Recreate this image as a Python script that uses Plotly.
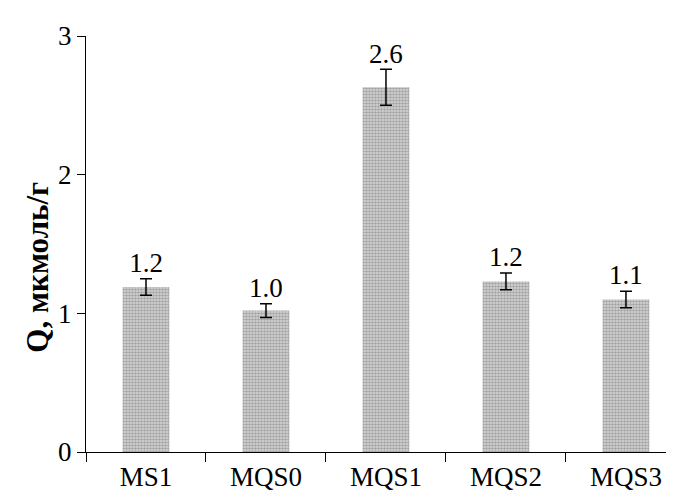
import plotly.graph_objects as go

categories = ["MS1", "MQS0", "MQS1", "MQS2", "MQS3"]
values = [1.19, 1.02, 2.63, 1.23, 1.10]
errors = [0.06, 0.05, 0.13, 0.06, 0.06]
labels = ["1.2", "1.0", "2.6", "1.2", "1.1"]
y_ticks = [0, 1, 2, 3]
y_title = "Q, мкмоль/г"

FONT = "Liberation Serif"

fig = go.Figure()
fig.add_trace(go.Bar(
    x=categories, y=values,
    width=0.39,
    marker=dict(
        color="#b8b8b8",
        line=dict(width=0),
        pattern=dict(shape=".", fgcolor="#6e6e6e", bgcolor="#dadada", size=3, solidity=0.6),
    ),
    error_y=dict(type="data", array=errors, visible=True, color="black", thickness=1.5, width=6),
    showlegend=False,
))
fig.add_trace(go.Scatter(
    x=categories, y=[v + e for v, e in zip(values, errors)],
    mode="text", text=labels, textposition="top center",
    textfont=dict(family=FONT, size=27, color="black"),
    showlegend=False, hoverinfo="skip",
))

fig.add_annotation(
    text="<b>" + y_title + "</b>", textangle=-90,
    xref="paper", x=-0.082, xanchor="center",
    yref="y", y=1.33, yanchor="middle",
    showarrow=False, font=dict(family=FONT, size=31, color="black"),
)

fig.update_layout(
    width=674, height=491,
    margin=dict(l=78, r=0, t=28, b=47),
    plot_bgcolor="white", paper_bgcolor="white",
    font=dict(family=FONT, size=27, color="black"),
    xaxis=dict(
        type="category", range=[-0.5, 4.467],
        showline=True, linecolor="black", linewidth=1.3,
        ticks="outside", ticklen=9, tickcolor="black", tickwidth=1.3,
        tickson="boundaries", showgrid=False, zeroline=False,
        tickfont=dict(family=FONT, size=27),
    ),
    yaxis=dict(
        range=[0, 3], tickvals=y_ticks,
        showline=True, linecolor="black", linewidth=1.3,
        ticks="outside", ticklen=8, tickcolor="black", tickwidth=1.3,
        showgrid=False, zeroline=False,
        tickfont=dict(family=FONT, size=27),
    ),
)

fig.write_html("out.html")
